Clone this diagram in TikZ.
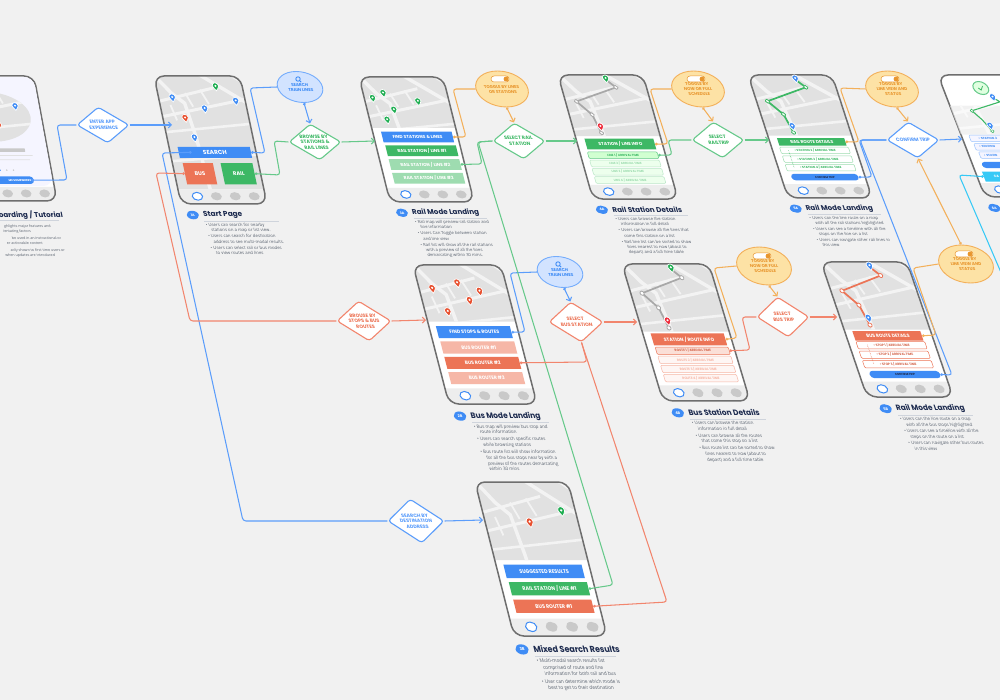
\documentclass[tikz,border=0pt]{standalone}
\usepackage{fontspec}
\setmainfont{Poppins}
\newfontfamily\notefamily{Open Sans}
\usetikzlibrary{shapes.geometric,arrows.meta}

\definecolor{pagegrey}{HTML}{F1F1F1}
\definecolor{edgegrey}{HTML}{6E6E6E}
\definecolor{mapblock}{HTML}{E1E1E1}
\definecolor{maproad}{HTML}{F3F3F3}
\definecolor{barfill}{HTML}{EDEDED}
\definecolor{navdot}{HTML}{C9C9C9}
\definecolor{navy}{HTML}{1D2B4F}
\definecolor{notegrey}{HTML}{59626F}
\definecolor{rulegrey}{HTML}{CFD4DC}
\definecolor{linkblue}{HTML}{5B9DFB}
\definecolor{linkgreen}{HTML}{66C98A}
\definecolor{linkorange}{HTML}{F3B05A}
\definecolor{linkcoral}{HTML}{F2856D}
\definecolor{linkcyan}{HTML}{36C9F6}
\definecolor{solidblue}{HTML}{3F8CF5}
\definecolor{solidgreen}{HTML}{3DB865}
\definecolor{solidcoral}{HTML}{EC7456}
\definecolor{softgreen}{HTML}{9EDCB0}
\definecolor{softcoral}{HTML}{F6B7A7}
\definecolor{pinred}{HTML}{E8502F}
\definecolor{pinhot}{HTML}{EE2C3C}
\definecolor{pingreen}{HTML}{1FAE52}
\definecolor{ovalorange}{HTML}{FDE2A5}
\definecolor{ovalblue}{HTML}{D2E3FF}
\definecolor{textorange}{HTML}{E8962E}
\definecolor{routegrey}{HTML}{A8A8A8}

\newcommand{\flowfont}{\fontsize{4.8}{5.6}\selectfont\bfseries}
\newcommand{\rowfont}{\fontsize{5.2}{6}\selectfont\bfseries}
\newcommand{\nb}{\hspace*{1em}}

\tikzset{
  flowdiamond/.style={diamond,draw=#1,fill=white,line width=1.1pt,minimum width=52,minimum height=36,
    inner sep=0,aspect=1.44,rounded corners=3pt,align=center,font=\flowfont,text=#1,xslant=-.27},
  flowoval/.style={ellipse,line width=.9pt,minimum width=52,minimum height=36,inner sep=0,align=center,
    font=\fontsize{4.2}{5}\selectfont\bfseries,xslant=-.25,execute at begin node={\rule{0pt}{10pt}\\}},
  toggleoval/.style={flowoval,draw=linkorange,fill=ovalorange,text=textorange},
  searchoval/.style={flowoval,draw=linkblue!85,fill=ovalblue,text=solidblue,minimum width=45,minimum height=31},
  solidrow/.style={rectangle,minimum width=84,minimum height=13,inner sep=0,transform shape,text=white,font=\rowfont,fill=#1},
  linerow/.style 2 args={rectangle,minimum width=82,minimum height=8,inner sep=0,transform shape,rounded corners=1pt,
    font=\fontsize{3.6}{4}\selectfont\bfseries,draw=#1,fill=#2,line width=.5pt},
  pillrow/.style={rectangle,rounded corners=3.5pt,minimum width=80,minimum height=8,inner sep=0,transform shape,
    fill=solidblue,text=navy,font=\fontsize{3.3}{4}\selectfont\bfseries},
  capbadge/.style={ellipse,fill=solidblue,text=white,minimum width=14,minimum height=10,inner sep=0,transform shape,
    font=\fontsize{4}{4.5}\selectfont\bfseries},
  captitle/.style={anchor=west,inner sep=0,transform shape,text=navy,font=\fontsize{8.5}{9.5}\selectfont\bfseries},
  capnote/.style={anchor=north west,inner sep=0,transform shape,align=left,text=notegrey,font=\fontsize{5}{6.3}\selectfont\notefamily},
  link/.style={draw=#1,line width=1.05pt,rounded corners=3pt},
  linkdot/.style={link=#1,arrows={Circle[length=2.6pt,open,fill=white]-}},
  linktip/.style={link=#1,arrows={-Straight Barb[length=3pt,width=6pt]}},
  linkboth/.style={link=#1,arrows={Circle[length=2.6pt,open,fill=white]-Straight Barb[length=3pt,width=6pt]}},
}

\newcommand{\citymap}{
  \fill[mapblock] (-5,-5) rectangle (105,155);
  \draw[maproad,line width=3.4pt] (52,-2) -- (102,32);
  \draw[maproad,line width=3pt] (88,-2) -- (102,8);
  \draw[maproad,line width=3pt] (-2,30) -- (66,14);
  \draw[maproad,line width=3pt] (-2,48) -- (102,27);
  \draw[maproad,line width=3.4pt] (3,3) -- (16,20) -- (29,32) -- (34,72) -- (38,140);
  \draw[maproad,line width=1.8pt] (32,20) -- (38,36);
  \draw[maproad,line width=1.8pt] (50,16) -- (57,33);
  \draw[maproad,line width=1.8pt] (12,34) -- (16,52);
  \draw[maproad,line width=2.6pt] (-2,66) -- (102,56);
  \draw[maproad,line width=2.6pt] (-2,100) -- (102,92);
}
\newcommand{\phoneframe}[2]{
  \fill[white,rounded corners=10pt] (0,0) rectangle (100,150);
  \begin{scope}
    \clip[rounded corners=10pt] (0,0) rectangle (100,150);
    \begin{scope}
      \clip (0,#1) rectangle (100,#2);
      \citymap
    \end{scope}
    \fill[barfill] (0,133) rectangle (100,150);
    \draw[solidblue,fill=white,line width=1pt] (21,141) ellipse (6 and 4.6);
    \foreach \u in {43,65,87}
      \fill[navdot] (\u,141) ellipse (6.3 and 4.8);
  \end{scope}
  \draw[edgegrey,line width=1.5pt,rounded corners=10pt] (0,0) rectangle (100,150);
}
\newcommand{\mappin}[3]{
  \begin{scope}[shift={(#1,#2)}]
    \draw[fill=#3,draw=white,line width=.7pt] (0,5.4) .. controls (-1.2,3.2) and (-3.7,1.6) .. (-3.7,-.4)
      arc[start angle=180,end angle=360,radius=3.7] .. controls (3.7,1.6) and (1.2,3.2) .. (0,5.4) -- cycle;
    \fill[white] (0,-.4) circle (1.3);
  \end{scope}
}
\newcommand{\transitroute}[3]{
  \draw[#1,line width=1.7pt] (55,6) -- (64,15) -- (13,32) -- (27,48) -- (32,70);
  \foreach \u/\v in {64/15,13/32,27/48,32/70}
    \draw[#1,fill=white,line width=.8pt] (\u,\v) circle (2.3);
  \mappin{55}{4}{#2}
  \mappin{33}{62}{#3}
}
\newcommand{\capblock}[4]{
  \begin{scope}[xshift=#1]
    \node[capbadge] (badge#2) at (11,163) {#2};
    \node[captitle] (title#2) at (23,163) {#3};
    \draw[rulegrey,line width=.8pt] (23,170) -- (110,170);
    \node[capnote] (note#2) at (23.5,172) {#4};
  \end{scope}
}
\newcommand{\togglemark}[1]{
  \draw[textorange,fill=white,line width=.5pt,rounded corners=3pt] ([shift={(-11,-13)}]#1.center) rectangle ([shift={(7,-7)}]#1.center);
  \fill[textorange] ([shift={(4,-10)}]#1.center) circle (2.4);
}
\newcommand{\glassmark}[1]{
  \draw[solidblue,line width=.9pt] ([shift={(-2,-8)}]#1.center) circle (2.2);
  \draw[solidblue,line width=.9pt] ([shift={(-.4,-6.4)}]#1.center) -- ([shift={(1.2,-4.8)}]#1.center);
}

\begin{document}
\begin{tikzpicture}[x=1pt,y=-1pt]
  \useasboundingbox (0,0) rectangle (1000,700);
  \clip (0,0) rectangle (1000,700);
  \fill[pagegrey] (0,0) rectangle (1000,700);

  % onboarding
  \begin{scope}[cm={.84,0,-.153,.833,(-50,76)}]
    \phoneframe{0}{0}
    \fill[white!96!blue,rounded corners=10pt] (1,1) rectangle (99,132);
    \begin{scope}
      \clip (37,49) ellipse (50 and 30);
      \citymap
    \end{scope}
    \mappin{71}{36}{solidblue}
    \mappin{47}{59}{pinred}
    \fill[navdot] (15,87) rectangle (73,91);
    \fill[mapblock] (15,95) rectangle (81,96);
    \fill[mapblock] (15,100) rectangle (77,101);
    \fill[solidblue] (39,113) circle (1);
    \fill[navdot] (47,113) circle (1);
    \fill[navdot] (55,113) circle (1);
    \fill[solidblue,rounded corners=3.5pt] (-10,120.5) rectangle (77,129.5);
    \node[anchor=east,inner sep=0,transform shape,text=white,font=\fontsize{3.3}{4}\selectfont\bfseries] (startbtn) at (74,125) {ME SOMEWHERE};
    \node[captitle,anchor=east] (titleintro) at (104,167) {oarding / Tutorial};
    \draw[rulegrey,line width=.8pt] (-10,173) -- (98,173);
    \begin{scope}[every node/.style={anchor=east,inner sep=0,transform shape,text=notegrey,font=\fontsize{4.3}{6}\selectfont\notefamily}]
      \node (introA) at (87,181) {ghlights major features and};
      \node (introB) at (62.5,187) {ientating factors};
      \node (introC) at (97,194.5) {be used in an instructional or};
      \node (introD) at (74,201) {er actionable content};
      \node (introE) at (99,209) {arily shown to first time users or};
      \node (introF) at (86,215.5) {when updates are introduced};
    \end{scope}
  \end{scope}

  % start page
  \begin{scope}[cm={.86,0,-.18,.853,(154,76)}]
    \phoneframe{0}{133}
    \mappin{16}{25}{solidblue}
    \mappin{69}{12}{pingreen}
    \mappin{89}{29}{solidblue}
    \mappin{51}{38}{solidblue}
    \mappin{26}{49}{pinred}
    \mappin{32}{72}{solidblue}
    \node[solidrow=solidblue,minimum width=84,font=\fontsize{6.8}{7.5}\selectfont\bfseries] (searchbar) at (52,89.5) {SEARCH};
    \node[solidrow=solidcoral,minimum width=35,minimum height=25,font=\fontsize{6.2}{7}\selectfont\bfseries] (busbtn) at (29.5,114.5) {BUS};
    \node[solidrow=solidgreen,minimum width=37,minimum height=25,font=\fontsize{6.2}{7}\selectfont\bfseries] (railbtn) at (74.5,114.5) {RAIL};
    \capblock{0}{1A}{Start Page}{\textbullet\ Users can search for nearby\\\nb stations on a map or list view.\\[1pt]
      \textbullet\ Users can search for destination\\\nb address to see multi-modal results.\\[1pt]
      \textbullet\ Users can select rail or bus modes\\\nb to view routes and lines}
  \end{scope}

  % rail landing
  \begin{scope}[cm={.84,0,-.207,.833,(359,77)}]
    \phoneframe{0}{61}
    \mappin{10}{25}{pingreen}
    \mappin{24}{19}{pingreen}
    \mappin{32}{39}{pingreen}
    \mappin{63}{29}{pingreen}
    \mappin{21}{51}{pingreen}
    \node[solidrow=solidblue] (railfind) at (52,72) {FIND STATIONS \& LINES};
    \node[solidrow=solidgreen] (railrowA) at (53,88.5) {RAIL STATION / LINE \#1};
    \node[solidrow=softgreen] (railrowB) at (53,105) {RAIL STATION / LINE \#2};
    \node[solidrow=softgreen] (railrowC) at (53,121.5) {RAIL STATION / LINE \#3};
    \capblock{0}{3A}{Rail Mode Landing}{\textbullet\ Rail map will preview rail station and\\\nb line information\\[1pt]
      \textbullet\ Users Can Toggle between station\\\nb and line view\\[1pt]
      \textbullet\ Rail list will show all the rail stations\\\nb with a preview of all the lines\\\nb demarcating within 30 mins.}
  \end{scope}

  % rail station details
  \begin{scope}[cm={.85,0,-.233,.827,(558,75)}]
    \phoneframe{0}{74}
    \transitroute{routegrey}{pingreen}{pinhot}
    \node[solidrow=solidgreen,minimum width=81] (stationhead) at (50.5,83.5) {STATION / LINE INFO};
    \node[linerow={linkgreen}{green!18!white},text=solidgreen] (stationA) at (50,97) {LINE 1 / ARRIVAL TIME};
    \node[linerow={softgreen!70}{green!7!white},text=softgreen] (stationB) at (50,107) {LINE 2 / ARRIVAL TIME};
    \node[linerow={softgreen!70}{green!7!white},text=softgreen] (stationC) at (50,117) {LINE 3 / ARRIVAL TIME};
    \node[linerow={softgreen!70}{green!7!white},text=softgreen] (stationD) at (50,127) {LINE 4 / ARRIVAL TIME};
    \capblock{-4}{4A}{Rail Station Details}{\textbullet\ Users can browse the station\\\nb information in full detail\\[1pt]
      \textbullet\ Users can browse all the lines that\\\nb come this station on a list\\[1pt]
      \textbullet\ Rail line list can be sorted to show\\\nb lines nearest to now (about to\\\nb depart) and a full time table}
  \end{scope}

  % rail route
  \begin{scope}[cm={.84,0,-.267,.82,(748,75)}]
    \phoneframe{0}{74}
    \transitroute{solidgreen}{solidblue}{solidblue}
    \node[solidrow=solidgreen,minimum width=80,minimum height=9] (routehead) at (50,81.5) {RAIL ROUTE DETAILS};
    \node[linerow={softgreen}{white},text=solidgreen] (routeA) at (50.5,92) {\textbullet\ STATION 2 / ARRIVAL TIME};
    \node[linerow={softgreen}{white},text=solidgreen] (routeB) at (50.5,102.5) {\textbullet\ STATION 3 / ARRIVAL TIME};
    \node[linerow={softgreen}{white},text=solidgreen] (routeC) at (50.5,113) {\textbullet\ STATION 4 / ARRIVAL TIME};
    \draw[solidgreen,densely dotted,line width=.5pt] (19,92) -- (19,113);
    \node[pillrow] (routeok) at (52,124.5) {CONFIRM TRIP};
    \capblock{-6}{5A}{Rail Mode Landing}{\textbullet\ Users can the line route on a map\\\nb with all the rail stations highlighted\\[1pt]
      \textbullet\ Users can see a timeline with all the\\\nb stops on the line on a list\\[1pt]
      \textbullet\ Users can navigate other rail lines in\\\nb this view}
  \end{scope}

  % trip confirmed
  \begin{scope}[cm={.84,0,-.313,.813,(938,75)}]
    \phoneframe{38}{73}
    \fill[white,opacity=.55] (0,38) rectangle (100,73);
    \draw[solidgreen,line width=1.1pt] (55,28) -- (61.5,33) -- (24,44) -- (32,55) -- (39,69);
    \draw[solidgreen,fill=white,line width=.6pt] (24,44) circle (2);
    \draw[solidgreen,fill=white,line width=.6pt] (39,69) circle (2);
    \mappin{55}{27}{solidblue}
    \mappin{39}{62}{solidblue}
    \draw[linkgreen,fill=green!12!white,line width=1pt] (45,16) ellipse (9 and 8);
    \draw[solidgreen,line width=.8pt] (42,16) -- (44.5,18.5) -- (48,13.5);
    \node[linerow={linkblue!60}{blue!4!white},text=solidblue,align=left,text width=62] (tripA) at (50,78) {\textbullet\ STATION 2};
    \node[linerow={linkblue!60}{blue!4!white},text=solidblue,align=left,text width=72] (tripB) at (52,88.5) {\textbullet\ STATION};
    \node[linerow={linkblue!60}{blue!4!white},text=solidblue,align=left,text width=72] (tripC) at (54,98.5) {\textbullet\ STATIO};
    \fill[solidblue,rounded corners=3.5pt] (11,107) rectangle (95,114.5);
    \node[solidrow=linkcyan,minimum height=12.5,align=left,text width=60,font=\fontsize{4}{5}\selectfont\bfseries] (tripcancel) at (50,125) {CA};
    \node[capbadge] (badge6A) at (6,163.5) {6A};
  \end{scope}

  % bus landing
  \begin{scope}[cm={.88,0,-.24,.927,(413,265)}]
    \phoneframe{0}{61}
    \mappin{15}{25}{pinred}
    \mappin{45}{19}{pinred}
    \mappin{68}{28}{pinred}
    \mappin{54}{38}{pinred}
    \mappin{26}{50}{pinred}
    \node[solidrow=solidblue] (busfind) at (50,72.5) {FIND STOPS \& ROUTES};
    \node[solidrow=softcoral] (busrowA) at (50.5,89) {BUS ROUTER \#1};
    \node[solidrow=solidcoral] (busrowB) at (50.5,105.5) {BUS ROUTER \#2};
    \node[solidrow=softcoral] (busrowC) at (50.5,122) {BUS ROUTER \#3};
    \capblock{-2}{2B}{Bus Mode Landing}{\textbullet\ Bus map will preview bus stop and\\\nb route information\\[1pt]
      \textbullet\ Users can search specific routes\\\nb while browsing stations\\[1pt]
      \textbullet\ Bus route list will show information\\\nb for all the bus stops near by with a\\\nb preview of the routes demarcating\\\nb within 30 mins}
  \end{scope}

  % bus station details
  \begin{scope}[cm={.87,0,-.273,.913,(622,264)}]
    \phoneframe{0}{74}
    \transitroute{routegrey}{pingreen}{pinhot}
    \node[solidrow=solidcoral] (stophead) at (51,82.5) {STATION / ROUTE INFO};
    \node[linerow={solidcoral}{softcoral!45},text=solidcoral!90!black,minimum width=84] (stopA) at (51.5,95) {ROUTE 1 / ARRIVAL TIME};
    \node[linerow={softcoral}{softcoral!12},text=softcoral,minimum width=84] (stopB) at (51.5,105) {ROUTE 2 / ARRIVAL TIME};
    \node[linerow={softcoral}{softcoral!12},text=softcoral,minimum width=84] (stopC) at (51.5,115) {ROUTE 3 / ARRIVAL TIME};
    \node[linerow={softcoral}{softcoral!12},text=softcoral,minimum width=84] (stopD) at (51.5,125) {ROUTE 4 / ARRIVAL TIME};
    \capblock{2}{4B}{Bus Station Details}{\textbullet\ Users can browse the station\\\nb information in full detail\\[1pt]
      \textbullet\ Users can browse all the routes\\\nb that come this stop on a list\\[1pt]
      \textbullet\ Bus route list can be sorted to show\\\nb lines nearest to now (about to\\\nb depart) and a full time table}
  \end{scope}

  % bus route
  \begin{scope}[cm={.86,0,-.307,.9,(821,262)}]
    \phoneframe{0}{75}
    \transitroute{solidcoral}{solidblue}{solidblue}
    \node[solidrow=solidcoral,minimum width=79,minimum height=10.5] (triphead) at (48.5,82) {BUS ROUTE DETAILS};
    \node[linerow={solidcoral}{white},text=solidcoral!90!black,minimum width=80] (tripstopA) at (49,92.5) {\textbullet\ STOP 1 / ARRIVAL TIME};
    \node[linerow={solidcoral}{white},text=solidcoral!90!black,minimum width=80] (tripstopB) at (49,103) {\textbullet\ STOP 2 / ARRIVAL TIME};
    \node[linerow={solidcoral}{white},text=solidcoral!90!black,minimum width=80] (tripstopC) at (49,113.5) {\textbullet\ STOP 3 / ARRIVAL TIME};
    \draw[solidcoral,densely dotted,line width=.5pt] (21,92) -- (21,113);
    \node[pillrow,minimum width=82] (tripstopok) at (53,125) {CONFIRM TRIP};
    \capblock{6}{5B}{Rail Mode Landing}{\textbullet\ Users can the line route on a map\\\nb with all the bus stops highlighted\\[1pt]
      \textbullet\ Users can see a timeline with all the\\\nb steps on the route on a list\\[1pt]
      \textbullet\ Users can navigate other bus routes\\\nb in this view}
  \end{scope}

  % mixed results
  \begin{scope}[cm={.93,0,-.26,1.027,(475,482)}]
    \phoneframe{0}{76}
    \mappin{48}{39}{pinred}
    \mappin{85}{28}{pingreen}
    \node[solidrow=solidblue] (mixsuggest) at (50,87) {SUGGESTED RESULTS};
    \node[solidrow=solidgreen] (mixrail) at (51,104) {RAIL STATION / LINE \#1};
    \node[solidrow=solidcoral] (mixbus) at (51,121) {BUS ROUTER \#1};
    \capblock{-6}{3B}{Mixed Search Results}{\textbullet\ Multi-modal search results list\\\nb comprised of route and line\\\nb information for both rail and bus\\[1pt]
      \textbullet\ User can determine which mode is\\\nb best to get to their destination}
  \end{scope}

  % decisions
  \node[flowdiamond=linkblue] (enterapp) at (103,125) {ENTER APP\\EXPERIENCE};
  \node[flowdiamond=solidgreen,draw=linkgreen] (browserail) at (315,142) {BROWSE BY\\STATIONS \&\\RAIL LINES};
  \node[flowdiamond=solidgreen,draw=linkgreen] (selectrail) at (519,141) {SELECT RAIL\\STATION};
  \node[flowdiamond=solidgreen,draw=linkgreen] (selecttrip) at (718,140) {SELECT\\RAILTRIP};
  \node[flowdiamond=linkblue] (confirm) at (913,140) {CONFIRM TRIP};
  \node[flowdiamond=solidcoral,draw=linkcoral,minimum width=54,minimum height=40] (browsebus) at (364,321) {BROUSE BY\\STOPS \& BUS\\ROUTES};
  \node[flowdiamond=solidcoral,draw=linkcoral,minimum width=54,minimum height=40] (selectbus) at (576,322) {SELECT\\BUS STATION};
  \node[flowdiamond=solidcoral,draw=linkcoral,minimum width=52,minimum height=40] (selectbustrip) at (783,317) {SELECT\\BUS TRIP};
  \node[flowdiamond=linkblue,minimum width=56,minimum height=44] (destination) at (416,521) {SEARCH BY\\DESTINATION\\ADDRESS};

  % ovals
  \node[searchoval] (searchrail) at (300,87) {SEARCH\\TRAIN LINES};
  \node[searchoval] (searchbus) at (560,272) {SEARCH\\TRAIN LINES};
  \node[toggleoval] (tograil) at (502,89) {TOGGLE BY LINES\\OR STATIONS};
  \node[toggleoval] (togstation) at (698,89) {TOGGLE BY\\NOW OR FULL\\SCHEDULE};
  \node[toggleoval] (togroute) at (892,89) {TOGGLE BY\\LINE VIEW AND\\STATUS};
  \node[toggleoval,minimum width=54,minimum height=38] (togbus) at (764,266) {TOGGLE BY\\NOW OR FULL\\SCHEDULE};
  \node[toggleoval,minimum width=54,minimum height=38] (togbusroute) at (966,264) {TOGGLE BY\\LINE VIEW AND\\STATUS};
  \glassmark{searchrail}
  \glassmark{searchbus}
  \togglemark{tograil}
  \togglemark{togstation}
  \togglemark{togroute}
  \togglemark{togbus}
  \togglemark{togbusroute}

  % ports on the phones
  \coordinate (port1A) at (172,125);
  \coordinate (port3A) at (375,141);
  \coordinate (port4A) at (577,141);
  \coordinate (port5A) at (769,140);
  \coordinate (port6A) at (962,139);
  \coordinate (port2B) at (426,320);
  \coordinate (port4B) at (637,322);
  \coordinate (port5B) at (837,317);
  \coordinate (port3B) at (483,520);
  \coordinate (offright) at (1015,305);

  % blue
  \draw[linkdot=linkblue] (startbtn.east) -- (67,180) -- (57,125) -- (enterapp.west);
  \draw[linktip=linkblue] (enterapp.east) -- (port1A);
  \draw[linkdot=linkblue] (searchbar.east) -- (265,153) -- (250,88) -- (searchrail.west);
  \draw[linkboth=linkblue] (searchrail.south) -- (browserail.north);
  \draw[linkdot=linkblue] ([xshift=13pt]searchbar.west) -- (162,153) -- (243,521) -- (destination.west);
  \draw[linktip=linkblue] (destination.east) -- (port3B);
  \draw[linkdot=linkblue] (busfind.east) -- (525,332) -- (510,273) -- (searchbus.west);
  \draw[linkboth=linkblue] (searchbus.south) -- (selectbus.north);
  \draw[linkdot=linkblue] (routeok.east) -- (872,177) -- (859,140) -- (confirm.west);
  \draw[linkdot=linkblue] (tripstopok.east) -- (952,375) -- (860,140) -- (confirm.west);
  \draw[linktip=linkblue] (confirm.east) -- (port6A);

  % green
  \draw[linkdot=linkgreen] (railbtn.east) -- (280,175) -- (274,141) -- (browserail.west);
  \draw[linktip=linkgreen] (browserail.east) -- (port3A);
  \draw[linkdot=linkgreen] (railrowB.east) -- (482,164) -- (477,142) -- (selectrail.west);
  \draw[linkdot=linkgreen] (mixrail.east) -- (613,585) -- (478,142) -- (selectrail.west);
  \draw[linktip=linkgreen] (selectrail.east) -- (port4A);
  \draw[linkdot=linkgreen] (stationA.east) -- (672,155) -- (668,140) -- (selecttrip.west);
  \draw[linktip=linkgreen] (selecttrip.east) -- (port5A);

  % orange
  \draw[linkdot=linkorange] (railfind.east) -- (466,137) -- (453,89) -- (tograil.west);
  \draw[linkboth=linkorange] (tograil.south) -- (selectrail.north);
  \draw[linkdot=linkorange] (stationhead.east) -- (668,144) -- (650,89) -- (togstation.west);
  \draw[linkboth=linkorange] (togstation.south) -- (selecttrip.north);
  \draw[linkdot=linkorange] (routehead.east) -- (859,142) -- (840,88) -- (togroute.west);
  \draw[linkboth=linkorange] (togroute.south) -- (confirm.north);
  \draw[linkboth=linkorange] (togbusroute.north) -- (confirm.south);
  \draw[linkdot=linkorange] (stophead.east) -- (737,338) -- (714,268) -- (togbus.west);
  \draw[linkboth=linkorange] (togbus.south) -- (selectbustrip.north);
  \draw[linkdot=linkorange] (triphead.east) -- (936,335) -- (913,268) -- (togbusroute.west);

  % coral
  \draw[linkdot=linkcoral] (busbtn.west) -- (156,173) -- (190,321) -- (browsebus.west);
  \draw[linktip=linkcoral] (browsebus.east) -- (port2B);
  \draw[linkdot=linkcoral] (busrowB.east) -- (587,362) -- (selectbus.south);
  \draw[linkdot=linkcoral] (mixbus.east) -- (667,602) -- (selectbus.south);
  \draw[linktip=linkcoral] (selectbus.east) -- (port4B);
  \draw[linkdot=linkcoral] (stopA.east) -- (750,350) -- (742,317) -- (selectbustrip.west);
  \draw[linktip=linkcoral] (selectbustrip.east) -- (port5B);

  % cyan
  \draw[linkdot=linkcyan] (tripcancel.west) -- (959,175) -- (offright);
\end{tikzpicture}
\end{document}
